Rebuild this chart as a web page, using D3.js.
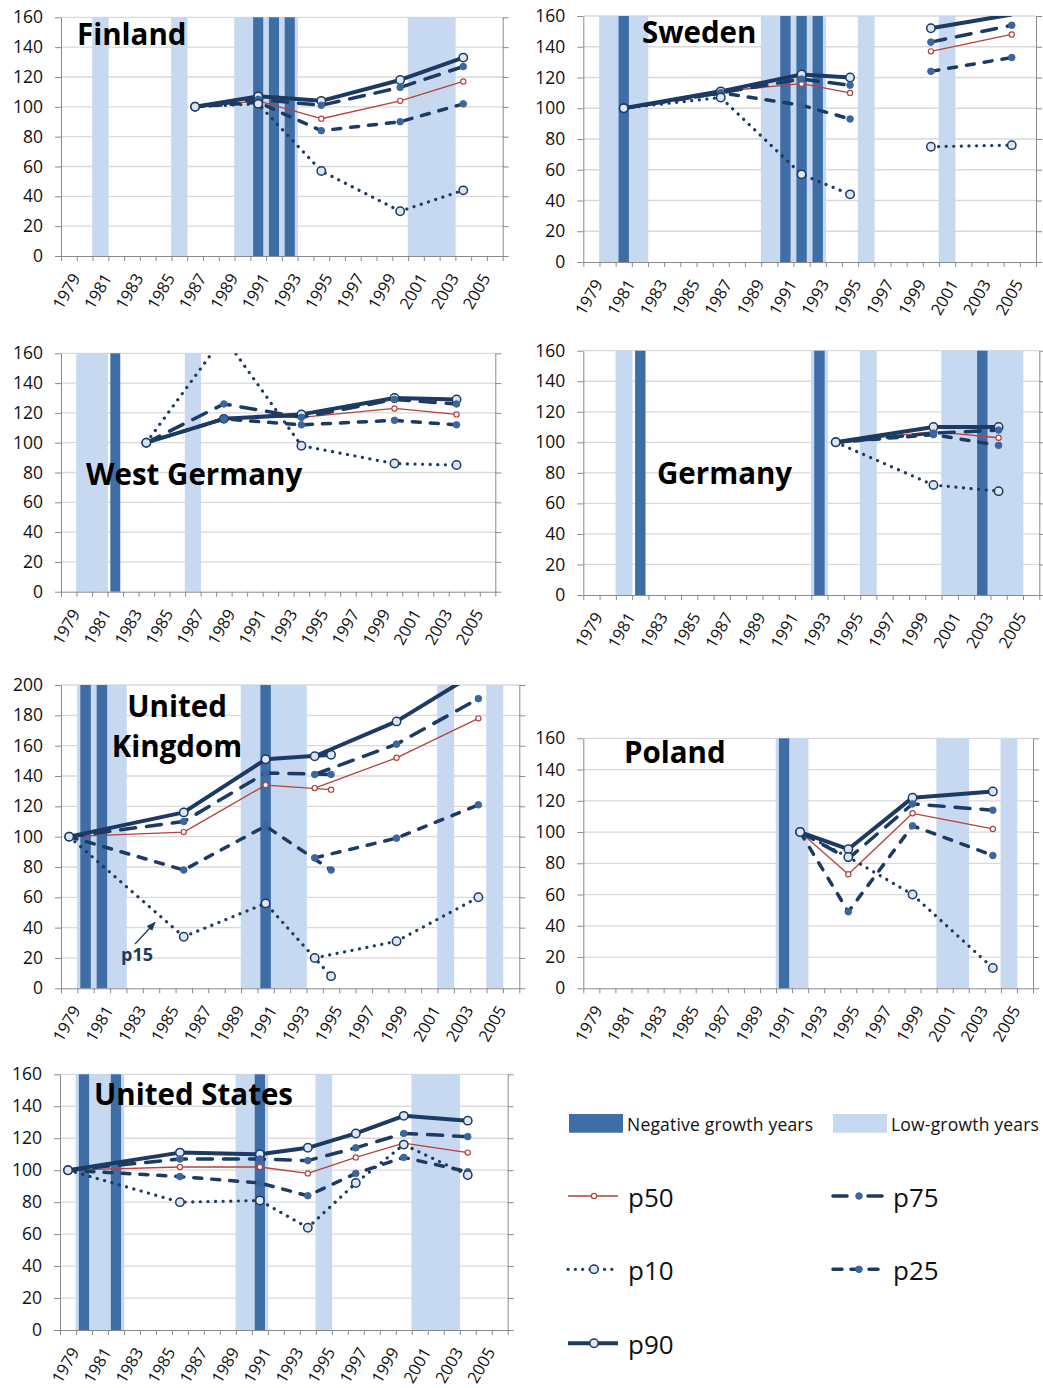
<!DOCTYPE html>
<html>
<head>
<meta charset="utf-8">
<script src="https://cdn.jsdelivr.net/npm/d3@7"></script>
<style>
  body { margin: 0; background: #fff; }
  svg { display: block; }
</style>
</head>
<body>
<svg id="chart" width="1043" height="1388"></svg>
<script>
// x categories (one per year) and the labelled ones
const years = [1979, 1980, 1981, 1982, 1983, 1984, 1985, 1986, 1987, 1988, 1989, 1990, 1991, 1992,
               1993, 1994, 1995, 1996, 1997, 1998, 1999, 2000, 2001, 2002, 2003, 2004, 2005, 2006];
const yearLabels = [1979, 1981, 1983, 1985, 1987, 1989, 1991, 1993, 1995, 1997, 1999, 2001, 2003, 2005];
const seriesOrder = ["p50", "p90", "p75", "p25", "p10"];

// Finland
const finYears = [1987, 1991, 1995, 2000, 2004];
const finP90 = [100, 107, 104, 118, 133];
const finP75 = [100, 105, 101, 113, 127];
const finP50 = [100, 104, 92, 104, 117];
const finP25 = [100, 103, 84, 90, 102];
const finP10 = [100, 102, 57, 30, 44];
const finLow = [1981, 1986, 1990, 1991, 1992, 1993, 2001, 2002, 2003];
const finNeg = [1991, 1992, 1993];

// Sweden (two survey segments)
const sweYearsA = [1981, 1987, 1992, 1995];
const sweP90A = [100, 111, 122, 120];
const sweP75A = [100, 110, 119, 115];
const sweP50A = [100, 111, 116, 110];
const sweP25A = [100, 110, 102, 93];
const sweP10A = [100, 107, 57, 44];
const sweYearsB = [2000, 2005];
const sweP90B = [152, 161];
const sweP75B = [143, 154];
const sweP50B = [137, 148];
const sweP25B = [124, 133];
const sweP10B = [75, 76];
const sweLow = [1980, 1981, 1982, 1990, 1991, 1992, 1993, 1996, 2001];
const sweNeg = [1981, 1991, 1992, 1993];

// West Germany
const wgYears = [1984, 1989, 1994, 2000, 2004];
const wgP90 = [100, 116, 119, 130, 129];
const wgP75 = [100, 126, 117, 129, 126];
const wgP50 = [100, 117, 117, 123, 119];
const wgP25 = [100, 116, 112, 115, 112];
const wgP10 = [100, 171, 98, 86, 85];
const wgLow = [1980, 1981, 1987];
const wgNeg = [1982];

// Germany
const gerYears = [1994, 2000, 2004];
const gerP90 = [100, 110, 110];
const gerP75 = [100, 106, 108];
const gerP50 = [100, 107, 103];
const gerP25 = [100, 105, 98];
const gerP10 = [100, 72, 68];
const gerLow = [1981, 1993, 1996, 2001, 2002, 2003, 2004, 2005];
const gerNeg = [1982, 1993, 2003];

// United Kingdom (old and new survey)
const ukYearsA = [1979, 1986, 1991, 1995];
const ukP90A = [100, 116, 151, 154];
const ukP75A = [100, 110, 142, 141];
const ukP50A = [100, 103, 134, 131];
const ukP25A = [100, 78, 107, 78];
const ukP10A = [100, 34, 56, 8];
const ukYearsB = [1994, 1999, 2004];
const ukP90B = [153, 176, 209];
const ukP75B = [141, 161, 191];
const ukP50B = [132, 152, 178];
const ukP25B = [86, 99, 121];
const ukP10B = [20, 31, 60];
const ukLow = [1980, 1981, 1982, 1990, 1991, 1992, 1993, 2002, 2005];
const ukNeg = [1980, 1981, 1991];

// Poland
const polYears = [1992, 1995, 1999, 2004];
const polP90 = [100, 89, 122, 126];
const polP75 = [100, 83, 118, 114];
const polP50 = [100, 73, 112, 102];
const polP25 = [100, 49, 104, 85];
const polP10 = [100, 84, 60, 13];
const polLow = [1991, 1992, 2001, 2002, 2005];
const polNeg = [1991];

// United States
const usYears = [1979, 1986, 1991, 1994, 1997, 2000, 2004];
const usP90 = [100, 111, 110, 114, 123, 134, 131];
const usP75 = [100, 107, 107, 106, 114, 123, 121];
const usP50 = [100, 102, 102, 98, 108, 117, 111];
const usP25 = [100, 96, 92, 84, 98, 108, 99];
const usP10 = [100, 80, 81, 64, 92, 116, 97];
const usLow = [1980, 1981, 1982, 1990, 1991, 1995, 2001, 2002, 2003];
const usNeg = [1980, 1982, 1991];

// legend
const bandLegend = ["Negative growth years", "Low-growth years"];
const lineLegend = ["p50", "p75", "p10", "p25", "p90"];

// colours and styles
const font = "'Open Sans', 'DejaVu Sans', sans-serif";
const navy = "#1c3a62";
const mid = "#3b679d";
const red = "#b5423e";
const darkBand = "#3f6da6";
const lightBand = "#c6d9f1";
const gridColor = "#d9d9d9";
const axisColor = "#8a8a8a";

const lineStyle = {
  p90: {stroke: navy, width: 4, dash: null},
  p75: {stroke: navy, width: 3.5, dash: "15 11"},
  p50: {stroke: red, width: 1.3, dash: null},
  p25: {stroke: navy, width: 3.5, dash: "8 10"},
  p10: {stroke: navy, width: 3.2, dash: "0.1 7.5"}
};
// the legend samples use their own dash rhythm so the marker sits between dashes
const legendDash = {p75: "14 21", p25: "9 9", p10: "0.1 7.2"};
const markerStyle = {
  p90: {r: 4.2, fill: "#dce6f2", stroke: navy, sw: 1.5},
  p75: {r: 3.3, fill: mid, stroke: mid, sw: 1},
  p50: {r: 2.6, fill: "#fff", stroke: red, sw: 1.2},
  p25: {r: 3.3, fill: mid, stroke: mid, sw: 1},
  p10: {r: 4.2, fill: "#dce6f2", stroke: navy, sw: 1.5}
};

function seg(yrs, p90, p75, p50, p25, p10) {
  return {years: yrs, p90: p90, p75: p75, p50: p50, p25: p25, p10: p10};
}

const panels = [
  {title: ["Finland"], tx: 77, ty: 45, anchor: "start", box: [61, 17.3, 502.7, 256], yMax: 160,
   low: finLow, neg: finNeg, segs: [seg(finYears, finP90, finP75, finP50, finP25, finP10)]},
  {title: ["Sweden"], tx: 642, ty: 43, anchor: "start", box: [583.3, 16, 1036, 262], yMax: 160,
   low: sweLow, neg: sweNeg, segs: [seg(sweYearsA, sweP90A, sweP75A, sweP50A, sweP25A, sweP10A),
                                    seg(sweYearsB, sweP90B, sweP75B, sweP50B, sweP25B, sweP10B)]},
  {title: ["West Germany"], tx: 86, ty: 485, anchor: "start", box: [61, 353.3, 495.3, 591.7], yMax: 160,
   low: wgLow, neg: wgNeg, segs: [seg(wgYears, wgP90, wgP75, wgP50, wgP25, wgP10)]},
  {title: ["Germany"], tx: 657, ty: 484, anchor: "start", box: [583.3, 350.7, 1039.3, 595], yMax: 160,
   low: gerLow, neg: gerNeg, segs: [seg(gerYears, gerP90, gerP75, gerP50, gerP25, gerP10)]},
  {title: ["United", "Kingdom"], tx: 177, ty: 716.7, anchor: "middle", box: [61, 685, 519.3, 988.3], yMax: 200,
   low: ukLow, neg: ukNeg, segs: [seg(ukYearsA, ukP90A, ukP75A, ukP50A, ukP25A, ukP10A),
                                  seg(ukYearsB, ukP90B, ukP75B, ukP50B, ukP25B, ukP10B)]},
  {title: ["Poland"], tx: 624, ty: 763, anchor: "start", box: [583.3, 738.3, 1033, 988.3], yMax: 160,
   low: polLow, neg: polNeg, segs: [seg(polYears, polP90, polP75, polP50, polP25, polP10)]},
  {title: ["United States"], tx: 94, ty: 1105, anchor: "start", box: [60, 1074.3, 507.7, 1330], yMax: 160,
   low: usLow, neg: usNeg, segs: [seg(usYears, usP90, usP75, usP50, usP25, usP10)]}
];

const svg = d3.select("#chart");
const defs = svg.append("defs");
defs.append("marker").attr("id", "arrow")
  .attr("viewBox", "0 0 10 10").attr("refX", 9).attr("refY", 5)
  .attr("markerWidth", 7).attr("markerHeight", 7).attr("orient", "auto")
  .append("path").attr("d", "M0,1 L10,5 L0,9 Z").attr("fill", navy);

panels.forEach((p, i) => drawPanel(p, i));
drawLegend();

function drawPanel(p, idx) {
  const [left, top, right, bottom] = p.box;
  const x = d3.scaleBand().domain(years).range([left, right]);
  const bw = x.bandwidth();
  const xl = d3.scaleLinear().domain([0, years.length]).range([left, right]);
  const y = d3.scaleLinear().domain([0, p.yMax]).range([bottom, top]);
  const yTicks = d3.range(0, p.yMax + 1, 20);
  const g = svg.append("g");

  // gridlines
  g.append("g").selectAll("line")
    .data(yTicks.filter(v => v > 0))
    .enter().append("line")
    .attr("x1", left).attr("x2", right)
    .attr("y1", d => y(d)).attr("y2", d => y(d))
    .attr("stroke", gridColor).attr("stroke-width", 1.3);

  // growth bands (a little overlap so neighbouring years join up)
  g.append("g").selectAll("rect")
    .data(p.low)
    .enter().append("rect")
    .attr("x", d => x(d) - 0.3).attr("y", top)
    .attr("width", bw + 0.6).attr("height", bottom - top)
    .attr("fill", lightBand);
  g.append("g").selectAll("rect")
    .data(p.neg)
    .enter().append("rect")
    .attr("x", d => x(d) + bw * 0.18).attr("y", top)
    .attr("width", bw * 0.64).attr("height", bottom - top)
    .attr("fill", darkBand);

  // axes
  const yAxis = g.append("g")
    .attr("transform", "translate(" + left + ",0)")
    .call(d3.axisLeft(y).tickValues(yTicks).tickSize(6).tickPadding(12).tickSizeOuter(0));
  styleAxis(yAxis);
  yAxis.selectAll("text").attr("font-size", 17.5);

  const rAxis = g.append("g")
    .attr("transform", "translate(" + right + ",0)")
    .call(d3.axisRight(y).tickValues(yTicks).tickSize(6).tickFormat("").tickSizeOuter(0));
  styleAxis(rAxis);

  const xTicks = g.append("g")
    .attr("transform", "translate(0," + bottom + ")")
    .call(d3.axisBottom(xl).tickValues(d3.range(years.length + 1)).tickSize(5).tickFormat("").tickSizeOuter(0));
  styleAxis(xTicks);

  const xLabels = g.append("g")
    .attr("transform", "translate(0," + bottom + ")")
    .call(d3.axisBottom(x).tickValues(yearLabels).tickSize(0));
  xLabels.select(".domain").remove();
  styleAxis(xLabels);
  xLabels.selectAll("text")
    .attr("font-size", 16.5)
    .attr("x", 0).attr("y", 0).attr("dy", "0.35em")
    .attr("text-anchor", "end")
    .attr("transform", "translate(7,19) rotate(-60)");

  // series lines and markers, clipped to the plot area
  defs.append("clipPath").attr("id", "clip" + idx)
    .append("rect").attr("x", left).attr("y", top)
    .attr("width", right - left).attr("height", bottom - top);
  const plot = g.append("g").attr("clip-path", "url(#clip" + idx + ")");

  const cx = yr => x(yr) + bw / 2;
  p.segs.forEach(s => {
    seriesOrder.forEach(name => {
      const pts = s.years.map((yr, k) => [cx(yr), y(s[name][k]), s[name][k]]);
      const ls = lineStyle[name];
      plot.append("path")
        .attr("d", d3.line()(pts.map(d => [d[0], d[1]])))
        .attr("fill", "none")
        .attr("stroke", ls.stroke)
        .attr("stroke-width", ls.width)
        .attr("stroke-dasharray", ls.dash)
        .attr("stroke-linecap", ls.dash ? "round" : "butt")
        .attr("stroke-linejoin", "round");
      // off-scale points keep their line but show no marker
      const ms = markerStyle[name];
      plot.append("g").selectAll("circle")
        .data(pts.filter(d => d[2] <= p.yMax))
        .enter().append("circle")
        .attr("cx", d => d[0]).attr("cy", d => d[1])
        .attr("r", ms.r)
        .attr("fill", ms.fill).attr("stroke", ms.stroke).attr("stroke-width", ms.sw);
    });
  });

  // title
  const t = g.append("text")
    .attr("x", p.tx).attr("y", p.ty)
    .attr("text-anchor", p.anchor)
    .attr("font-family", font).attr("font-weight", "bold")
    .attr("font-size", 29.5).attr("fill", "#000");
  p.title.forEach((line, k) => {
    t.append("tspan").attr("x", p.tx).attr("dy", k === 0 ? 0 : 40.5).text(line);
  });

  // UK note for the older survey
  if (p.title[0] === "United" && p.title.length > 1) {
    g.append("line")
      .attr("x1", 135).attr("y1", 944).attr("x2", 155).attr("y2", 922.5)
      .attr("stroke", navy).attr("stroke-width", 1.3)
      .attr("marker-end", "url(#arrow)");
    g.append("text")
      .attr("x", 121).attr("y", 961)
      .attr("font-family", font).attr("font-weight", "bold")
      .attr("font-size", 18).attr("fill", navy)
      .text("p15");
  }
}

function styleAxis(a) {
  a.attr("font-family", font);
  a.select(".domain").attr("stroke", axisColor);
  a.selectAll(".tick line").attr("stroke", axisColor);
  a.selectAll("text").attr("fill", "#111");
}

function drawLegend() {
  const lg = svg.append("g").attr("font-family", font);
  const bandX = [569, 833];
  const bandColors = [darkBand, lightBand];
  bandLegend.forEach((name, k) => {
    lg.append("rect").attr("x", bandX[k]).attr("y", 1114)
      .attr("width", 54).attr("height", 18.7).attr("fill", bandColors[k]);
    lg.append("text").attr("x", bandX[k] + 58).attr("y", 1130.5)
      .attr("font-size", 17.5).attr("letter-spacing", 0.2).attr("fill", "#111").text(name);
  });

  const colX = [567, 832];
  const rowY = [1196, 1269.3, 1343.3];
  lineLegend.forEach((name, k) => {
    const x0 = colX[k % 2];
    const yy = rowY[Math.floor(k / 2)];
    const ls = lineStyle[name];
    const ms = markerStyle[name];
    lg.append("line")
      .attr("x1", x0 + 1).attr("x2", x0 + 51).attr("y1", yy).attr("y2", yy)
      .attr("stroke", ls.stroke).attr("stroke-width", ls.width)
      .attr("stroke-dasharray", legendDash[name] || ls.dash)
      .attr("stroke-linecap", ls.dash ? "round" : "butt");
    lg.append("circle").attr("cx", x0 + 27).attr("cy", yy).attr("r", ms.r)
      .attr("fill", ms.fill).attr("stroke", ms.stroke).attr("stroke-width", ms.sw);
    lg.append("text").attr("x", x0 + 61).attr("y", yy + 10.7)
      .attr("font-size", 26).attr("fill", "#111").text(name);
  });
}
</script>
</body>
</html>
